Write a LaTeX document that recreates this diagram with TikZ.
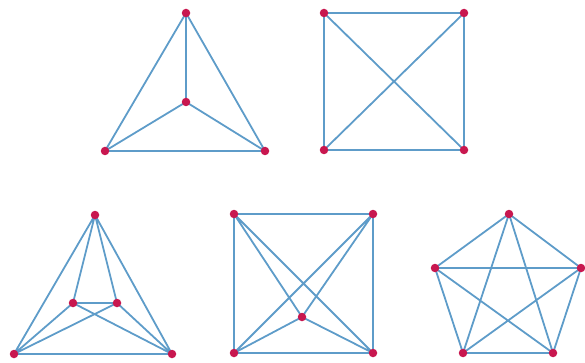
\documentclass[tikz,border=0pt]{standalone}
\definecolor{edgeblue}{HTML}{5E9CC9}
\definecolor{vertred}{HTML}{C8174F}
\tikzset{
  v/.style={circle,fill=vertred,inner sep=0pt,minimum size=8.5pt},
  e/.style={draw=edgeblue,line width=1.8pt}
}
\begin{document}
\begin{tikzpicture}[x=1pt,y=-1pt]
\useasboundingbox (0,0) rectangle (585,363);
% Graph 1
\coordinate (a1) at (186,13);
\coordinate (a2) at (186,102);
\coordinate (a3) at (105,151);
\coordinate (a4) at (265,151);
\draw[e] (a1)--(a2) (a1)--(a3) (a1)--(a4) (a2)--(a3) (a2)--(a4) (a3)--(a4);
% Graph 2
\coordinate (b1) at (324,13);
\coordinate (b2) at (464,13);
\coordinate (b3) at (324,150);
\coordinate (b4) at (464,150);
\draw[e] (b1)--(b2) (b2)--(b4) (b4)--(b3) (b3)--(b1) (b1)--(b4) (b2)--(b3);
% Graph 3
\coordinate (c1) at (95,215);
\coordinate (c2) at (73,303);
\coordinate (c3) at (117,303);
\coordinate (c4) at (14,354);
\coordinate (c5) at (172,354);
\draw[e] (c1)--(c2) (c1)--(c3) (c1)--(c4) (c1)--(c5) (c2)--(c3) (c2)--(c4) (c2)--(c5) (c3)--(c4) (c3)--(c5) (c4)--(c5);
% Graph 4
\coordinate (d1) at (234,214);
\coordinate (d2) at (373,214);
\coordinate (d3) at (234,353);
\coordinate (d4) at (373,353);
\coordinate (d5) at (302,317);
\draw[e] (d1)--(d2) (d2)--(d4) (d4)--(d3) (d3)--(d1) (d1)--(d4) (d2)--(d3) (d5)--(d1) (d5)--(d2) (d5)--(d3) (d5)--(d4);
% Graph 5
\coordinate (f1) at (509,214);
\coordinate (f2) at (435,268);
\coordinate (f3) at (581,268);
\coordinate (f4) at (463,353);
\coordinate (f5) at (553,353);
\draw[e] (f1)--(f2) (f1)--(f3) (f1)--(f4) (f1)--(f5) (f2)--(f3) (f2)--(f4) (f2)--(f5) (f3)--(f4) (f3)--(f5) (f4)--(f5);
% vertices
\foreach \p in {a1,a2,a3,a4,b1,b2,b3,b4,c1,c2,c3,c4,c5,d1,d2,d3,d4,d5,f1,f2,f3,f4,f5}
  \node[v] (n\p) at (\p) {};
\end{tikzpicture}
\end{document}
